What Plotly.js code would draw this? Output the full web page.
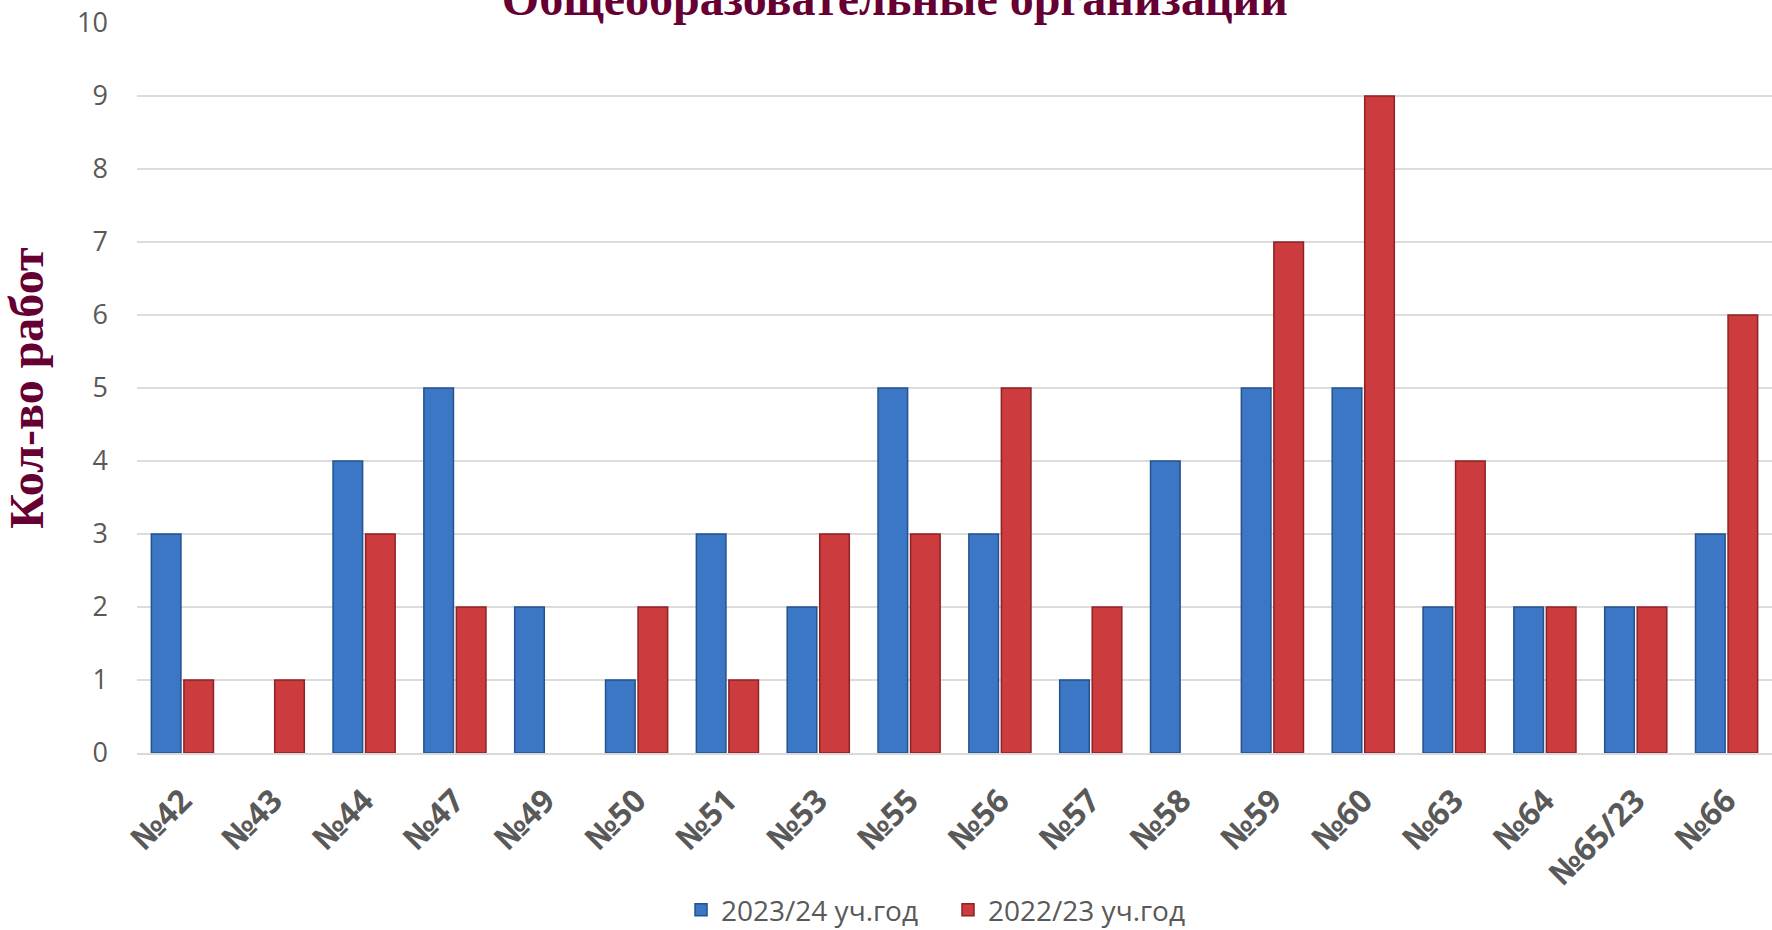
<!DOCTYPE html>
<html>
<head>
<meta charset="utf-8">
<script src="https://cdn.plot.ly/plotly-3.0.1.min.js"></script>
<style>html,body{margin:0;padding:0;background:#fff;}#chart{width:1772px;height:930px;}</style>
</head>
<body>
<div id="chart"></div>
<script>
const categories = ["№42","№43","№44","№47","№49","№50","№51","№53","№55","№56","№57","№58","№59","№60","№63","№64","№65/23","№66"];
const series2023 = [3, null, 4, 5, 2, 1, 3, 2, 5, 3, 1, 4, 5, 5, 2, 2, 2, 3];
const series2022 = [1, 1, 3, 2, null, 2, 1, 3, 3, 5, 2, null, 7, 9, 4, 2, 2, 6];
const seriesNames = ["2023/24 уч.год", "2022/23 уч.год"];
const titleText = "Общеобразовательные организации";
const yTitleText = "Кол-во работ";

const traces = [
  {type:'bar', name:seriesNames[0], x:categories, y:series2023,
   marker:{color:'#3b77c4', line:{color:'#25528f', width:1.5}}},
  {type:'bar', name:seriesNames[1], x:categories, y:series2022,
   marker:{color:'#cc3b3d', line:{color:'#8e2224', width:1.5}}}
];

const layout = {
  width:1772, height:930,
  margin:{l:137, r:0, t:23, b:177, autoexpand:false},
  paper_bgcolor:'#ffffff', plot_bgcolor:'#ffffff',
  barmode:'group', bargap:0.284, bargroupgap:0.09,
  title:{text:titleText, font:{family:'Liberation Serif, Times New Roman, serif', size:48, color:'#660033', weight:'bold'},
         x:0.505, xanchor:'center', xref:'container', y:1-15/930, yanchor:'bottom', yref:'container', pad:{t:0,b:0}},
  xaxis:{type:'category', tickangle:-45, automargin:false,
         tickfont:{family:'Open Sans, sans-serif', size:32, color:'#595959', weight:'bold'},
         showline:true, linecolor:'#d9d9d9', linewidth:2, ticks:'', showgrid:false, ticklabelstandoff:14},
  yaxis:{range:[0,10], dtick:1, automargin:false, showgrid:true, gridcolor:'#dcdcdc', gridwidth:2,
         zeroline:false, ticks:'', ticklabelstandoff:28,
         tickfont:{family:'Open Sans, sans-serif', size:27, color:'#595959'},
         title:{text:yTitleText, standoff:20, font:{family:'Liberation Serif, Times New Roman, serif', size:48, color:'#660033', weight:'bold'}}},
  legend:{orientation:'h', xref:'container', yref:'container', x:0.535, xanchor:'center', y:1-910/930, yanchor:'middle',
          font:{family:'Open Sans, sans-serif', size:28, color:'#595959'}, traceorder:'normal', itemwidth:30,
          entrywidth:222, entrywidthmode:'pixels'},
  showlegend:true
};

Plotly.newPlot('chart', traces, layout, {displayModeBar:false, staticPlot:true});
</script>
</body>
</html>
